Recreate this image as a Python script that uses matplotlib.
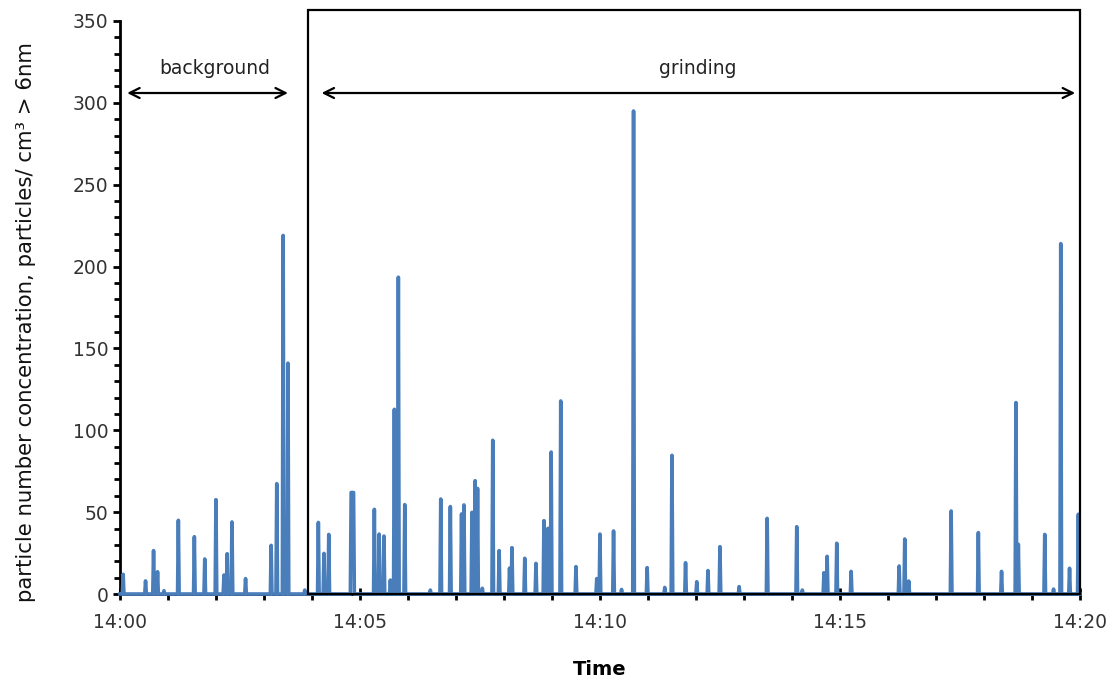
import numpy as np
import matplotlib
matplotlib.use("Agg")
import matplotlib.pyplot as plt
from matplotlib.patches import Rectangle

# seconds after 14:00 and concentration (particles/cm3) of every non-zero reading
spike_sec = [4, 32, 42, 47, 55, 73, 93, 106, 120, 130, 134, 140, 157, 189, 196, 204, 210, 231,
             248, 255, 261, 289, 290, 291, 292, 318, 324, 330, 338, 343, 348, 356, 388, 401,
             413, 427, 430, 440, 444, 447, 453, 466, 474, 487, 490, 506, 520, 530, 535, 539,
             551, 570, 596, 600, 617, 627, 642, 659, 681, 690, 707, 721, 735, 750, 774, 809,
             846, 853, 880, 884, 896, 914, 974, 981, 986, 1039, 1073, 1102, 1120, 1123, 1156,
             1167, 1176, 1187, 1198]
spike_val = [12, 8, 26.5, 13.6, 2, 45, 35, 21.4, 57.6, 11.6, 24.6, 44, 9.4, 29.7, 67.4, 219, 141, 2.4,
             43.7, 24.8, 36.4, 62, 62, 62, 62, 51.7, 36.6, 35.4, 8.5, 112.8, 193.5, 54.6, 2.4, 58,
             53.4, 48.9, 54.4, 49.9, 69.2, 64.5, 3.5, 93.9, 26.5, 15.8, 28.3, 21.8, 18.7, 44.8, 40.1, 86.7,
             117.9, 16.7, 9.4, 36.6, 38.5, 2.8, 295, 16.1, 4, 84.7, 19.1, 7.5, 14.3, 28.9, 4.5, 46.2,
             41.1, 2.4, 13, 23, 31, 13.8, 17.1, 33.6, 7.9, 50.7, 37.5, 13.8, 116.9, 30.3, 36.4,
             3, 214, 15.7, 48.7]
duration_sec = 1200
tick_labels = ["14:00", "14:05", "14:10", "14:15", "14:20"]
grinding_start = 3.92  # minutes

t = np.arange(duration_sec + 1)
conc = np.zeros(len(t))
conc[spike_sec] = spike_val
minutes = t / 60.0

fig = plt.figure(figsize=(11.19, 6.83), dpi=100)
ax = fig.add_axes([0.1072, 0.1303, 0.8579, 0.8390])

ax.plot(minutes, conc, color="#4a7ebb", lw=2.6, clip_on=False, zorder=3)

ax.set_xlim(0, 20)
ax.set_ylim(0, 350)
ax.set_xticks([0, 5, 10, 15, 20])
ax.set_xticklabels(tick_labels)
ax.set_xticks(np.arange(0, 21, 1), minor=True)
ax.set_yticks(np.arange(0, 351, 50))
ax.set_yticks(np.arange(0, 351, 10), minor=True)

for s in ["top", "right"]:
    ax.spines[s].set_visible(False)
for s in ["left", "bottom"]:
    ax.spines[s].set_linewidth(2)
    ax.spines[s].set_color("black")

ax.tick_params(axis="x", which="major", direction="inout", length=9, width=2,
               labelsize=13.5, pad=9, labelcolor="#333333")
ax.tick_params(axis="x", which="minor", direction="out", length=4, width=2)
ax.tick_params(axis="y", which="major", direction="out", length=5, width=2,
               labelsize=13.5, labelcolor="#333333")
ax.tick_params(axis="y", which="minor", direction="out", length=4, width=2)

ax.set_xlabel("Time", fontsize=14, fontweight="bold", labelpad=20)
ax.set_ylabel("particle number concentration, particles/ cm\u00b3 > 6nm", fontsize=15.3,
              color="#111111")
ax.yaxis.set_label_coords(-0.087, 0.475)

# grinding frame
ax.add_patch(Rectangle((grinding_start, 0), 20 - grinding_start, 357, fill=False,
                       edgecolor="black", lw=1.6, clip_on=False, zorder=4))

ax.annotate("", xy=(0.15, 306), xytext=(3.5, 306),
            arrowprops=dict(arrowstyle="<->", color="black", lw=1.6, mutation_scale=18,
                            shrinkA=0, shrinkB=0))
ax.text(1.98, 321, "background", ha="center", va="center", fontsize=13.5, color="#222222")

ax.annotate("", xy=(4.2, 306), xytext=(19.9, 306),
            arrowprops=dict(arrowstyle="<->", color="black", lw=1.6, mutation_scale=18,
                            shrinkA=0, shrinkB=0))
ax.text(12.04, 321, "grinding", ha="center", va="center", fontsize=13.5, color="#222222")

fig.savefig("out.png", dpi=100)
plt.close(fig)
